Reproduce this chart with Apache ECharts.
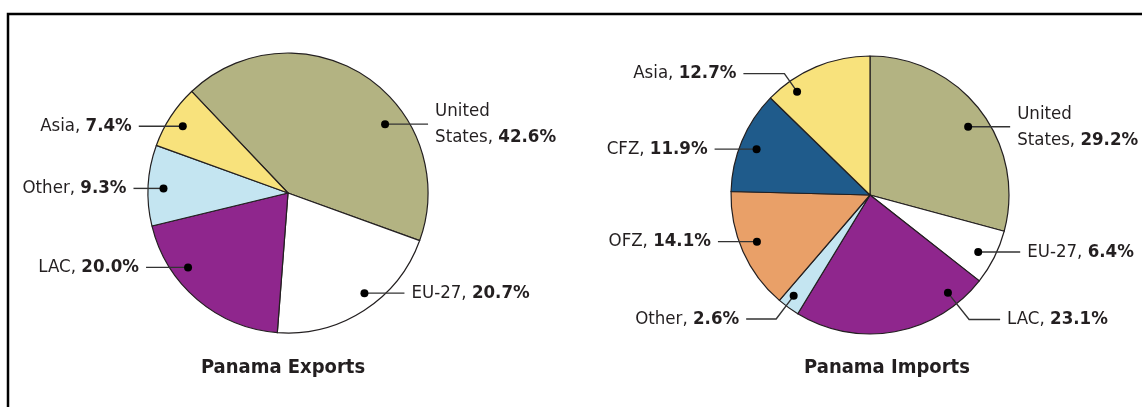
<!DOCTYPE html>
<html>
<head>
<meta charset="utf-8">
<script src="https://cdn.jsdelivr.net/npm/echarts@6/dist/echarts.min.js"></script>
<style>
html,body{margin:0;padding:0;background:#fff;}
#chart{width:1142px;height:407px;}
</style>
</head>
<body>
<div id="chart"></div>
<script>
// ---- data ----
const exportCats = ['United States', 'EU-27', 'LAC', 'Other', 'Asia'];
const exportVals = [42.6, 20.7, 20.0, 9.3, 7.4];
const importCats = ['United States', 'EU-27', 'LAC', 'Other', 'OFZ', 'CFZ', 'Asia'];
const importVals = [29.2, 6.4, 23.1, 2.6, 14.1, 11.9, 12.7];
const chartTitles = ['Panama Exports', 'Panama Imports'];

// ---- styles ----
const catColors = {
  'United States': '#b3b382',
  'EU-27': '#ffffff',
  'LAC': '#8f268d',
  'Other': '#c4e5f1',
  'Asia': '#f8e27c',
  'CFZ': '#1f5b8b',
  'OFZ': '#e9a068'
};
// leader style per slice: [angle fraction in slice, radius fraction, radial length, horizontal length]
const exportLeaders = [[0.64, 0.85, 0, 43], [0.44, 0.90, 0, 40], [0.68, 0.89, 0, 42], [0.47, 0.89, 0, 30], [0.47, 0.89, 0, 44]];
const importLeaders = [[0.525, 0.86, 0, 42], [0.55, 0.88, 0, 42], [0.16, 0.90, 34, 31], [0.62, 0.91, 29, 30], [0.53, 0.88, 0, 39], [0.48, 0.88, 0, 42], [0.23, 0.91, 22, 41]];

const FONT = "'Liberation Sans Narrow', 'Arial Narrow', 'DejaVu Sans Condensed', sans-serif";
const TXT = '#231f20';
const LABEL_SIZE = 18.5;

const chart = echarts.init(document.getElementById('chart'), null, {renderer: 'canvas'});

function geom(seriesIndex, idx, leader) {
  const data = chart.getModel().getSeriesByIndex(seriesIndex).getData();
  const L = data.getItemLayout(idx);
  const a = L.startAngle + leader[0] * (L.endAngle - L.startAngle);
  const rr = leader[1] * L.r;
  const dx = Math.cos(a), dy = Math.sin(a);
  const p1 = [L.cx + rr * dx, L.cy + rr * dy];
  const p2 = [p1[0] + leader[2] * dx, p1[1] + leader[2] * dy];
  const side = dx < 0 ? -1 : 1;
  const p3 = [p2[0] + side * leader[3], p2[1]];
  return {p1, p2, p3, side};
}

function labelText(name, value) {
  const parts = name.split(' ');
  const pct = '{b|' + value.toFixed(1) + '%}';
  if (parts.length > 1) {
    return '{n|' + parts.slice(0, -1).join(' ') + '}\n{n|' + parts[parts.length - 1] + ', }' + pct;
  }
  return '{n|' + name + ', }' + pct;
}

function pieGroup(cats, vals, leaders, center, radius, startAngle, baseIndex) {
  const data = cats.map((c, i) => ({name: c, value: vals[i]}));
  const common = {
    type: 'pie', center: center, radius: radius, startAngle: startAngle, clockwise: true,
    avoidLabelOverlap: false, animation: false, silent: true,
    emphasis: {disabled: true}
  };
  return [
    Object.assign({}, common, {
      z: 1,
      data: data.map(d => Object.assign({}, d, {itemStyle: {color: catColors[d.name]}})),
      itemStyle: {borderColor: TXT, borderWidth: 1.2},
      label: {show: false}, labelLine: {show: false}
    }),
    Object.assign({}, common, {
      z: 3,
      data: data,
      itemStyle: {color: 'rgba(0,0,0,0)', borderWidth: 0},
      label: {
        show: true, position: 'outside',
        formatter: p => labelText(p.name, p.value),
        rich: {
          n: {fontFamily: FONT, fontSize: LABEL_SIZE, color: TXT, lineHeight: 26},
          b: {fontFamily: FONT, fontSize: LABEL_SIZE, fontWeight: 'bold', color: TXT, lineHeight: 26}
        }
      },
      labelLine: {show: true, length: 0, length2: 10, lineStyle: {color: '#333', width: 1.4}},
      labelLayout: function (p) {
        const g = geom(baseIndex, p.dataIndex, leaders[p.dataIndex]);
        return {
          x: g.p3[0] + g.side * 7, y: g.p3[1],
          align: g.side > 0 ? 'left' : 'right', verticalAlign: 'middle',
          labelLinePoints: [g.p1, g.p2, g.p3]
        };
      }
    }),
    Object.assign({}, common, {
      z: 4,
      data: data,
      itemStyle: {color: 'rgba(0,0,0,0)', borderWidth: 0},
      label: {
        show: true, position: 'inside', formatter: '{d|}',
        rich: {d: {width: 8, height: 8, borderRadius: 4, backgroundColor: '#000'}}
      },
      labelLine: {show: false},
      labelLayout: function (p) {
        const g = geom(baseIndex, p.dataIndex, leaders[p.dataIndex]);
        return {x: g.p1[0], y: g.p1[1], align: 'center', verticalAlign: 'middle'};
      }
    })
  ];
}

const option = {
  backgroundColor: '#ffffff',
  title: [
    {text: chartTitles[0], left: 283, top: 358, textAlign: 'center', padding: 0,
     textStyle: {fontFamily: FONT, fontSize: 20, fontWeight: 'bold', color: TXT}},
    {text: chartTitles[1], left: 887, top: 358, textAlign: 'center', padding: 0,
     textStyle: {fontFamily: FONT, fontSize: 20, fontWeight: 'bold', color: TXT}}
  ],
  graphic: [{
    type: 'rect', z: -1, silent: true,
    shape: {x: 8, y: 14, width: 1300, height: 600},
    style: {fill: 'none', stroke: '#000', lineWidth: 2.5}
  }],
  series: [].concat(
    pieGroup(exportCats, exportVals, exportLeaders, [288, 193], 140, 133.5, 0),
    pieGroup(importCats, importVals, importLeaders, [870, 195], 139, 90, 3)
  )
};
chart.setOption(option);
</script>
</body>
</html>
